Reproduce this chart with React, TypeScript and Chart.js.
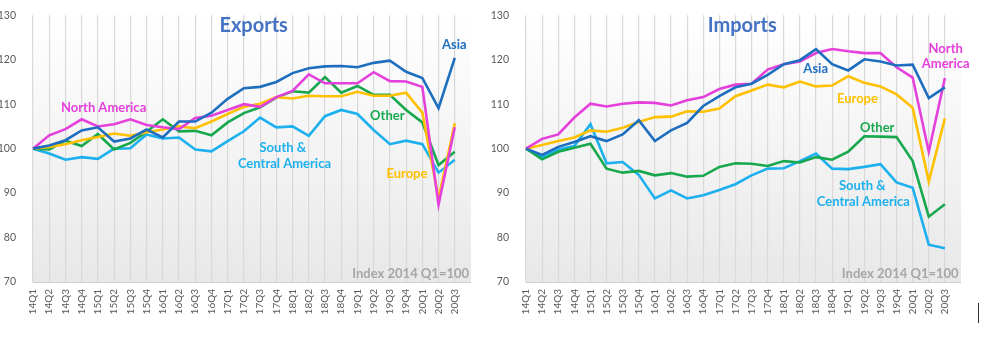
import React, { useEffect, useRef } from 'react';
import { Chart, registerables } from 'chart.js';

Chart.register(...registerables);

const quarters = [
  '14Q1', '14Q2', '14Q3', '14Q4', '15Q1', '15Q2', '15Q3', '15Q4',
  '16Q1', '16Q2', '16Q3', '16Q4', '17Q1', '17Q2', '17Q3', '17Q4',
  '18Q1', '18Q2', '18Q3', '18Q4', '19Q1', '19Q2', '19Q3', '19Q4',
  '20Q1', '20Q2', '20Q3',
];
const yTicks = [70, 80, 90, 100, 110, 120, 130];

const exportsAsia = [100, 100.7, 101.9, 104.1, 104.8, 101.6, 102.3, 104.3, 102.5, 106.1, 106.1, 108.1, 111.2, 113.6, 113.9, 115.0, 117.0, 118.1, 118.5, 118.6, 118.3, 119.3, 119.8, 117.3, 115.9, 109.1, 120.4];
const exportsNorthAmerica = [100, 103.0, 104.4, 106.6, 105.0, 105.5, 106.6, 105.3, 104.8, 104.4, 106.9, 107.4, 108.7, 110.0, 109.4, 111.6, 113.0, 116.7, 114.7, 114.7, 114.7, 117.2, 115.2, 115.1, 113.9, 87.4, 104.8];
const exportsEurope = [100, 100.4, 101.0, 101.9, 102.6, 103.4, 102.9, 103.7, 104.3, 105.0, 104.6, 106.1, 107.8, 109.4, 110.1, 111.6, 111.3, 111.9, 111.8, 111.8, 112.8, 111.9, 111.9, 112.6, 108.1, 88.8, 105.7];
const exportsOther = [100, 99.8, 101.8, 100.6, 103.3, 99.8, 101.3, 103.8, 106.6, 103.9, 104.0, 103.0, 105.9, 108.0, 109.3, 111.5, 112.9, 112.6, 116.1, 112.6, 114.1, 112.1, 112.1, 108.7, 105.9, 96.3, 99.3];
const exportsSouthCentral = [100, 98.9, 97.5, 98.1, 97.7, 100.0, 100.1, 103.2, 102.3, 102.5, 99.8, 99.4, 101.7, 103.9, 107.0, 104.8, 105.0, 102.9, 107.3, 108.7, 107.8, 104.2, 101.0, 101.8, 101.0, 94.6, 97.5];

const importsAsia = [100, 98.6, 100.4, 101.5, 102.8, 101.7, 103.2, 106.4, 101.7, 104.1, 105.8, 109.6, 111.8, 113.8, 114.6, 116.6, 119.0, 119.9, 122.4, 119.0, 117.6, 120.1, 119.6, 118.7, 118.9, 111.4, 113.8];
const importsNorthAmerica = [100, 102.2, 103.2, 107.0, 110.1, 109.5, 110.1, 110.4, 110.3, 109.7, 110.9, 111.6, 113.4, 114.4, 114.6, 117.8, 119.0, 119.6, 121.5, 122.4, 121.9, 121.5, 121.5, 118.3, 116.0, 99.3, 115.9];
const importsEurope = [100, 100.8, 101.7, 102.5, 104.1, 103.8, 104.7, 106.0, 107.1, 107.2, 108.4, 108.3, 109.0, 111.8, 113.1, 114.4, 113.8, 115.1, 114.0, 114.2, 116.3, 114.8, 114.0, 112.2, 109.2, 92.6, 106.8];
const importsOther = [100, 97.6, 99.3, 100.2, 101.1, 95.5, 94.6, 95.0, 94.0, 94.5, 93.7, 93.9, 95.9, 96.7, 96.6, 96.1, 97.2, 96.9, 98.1, 97.5, 99.3, 102.8, 102.7, 102.6, 97.2, 84.7, 87.5];
const importsSouthCentral = [100, 98.1, 99.8, 100.6, 105.5, 96.7, 97.0, 94.1, 88.8, 90.6, 88.8, 89.5, 90.7, 92.0, 94.0, 95.5, 95.6, 97.2, 98.9, 95.5, 95.4, 95.9, 96.5, 92.4, 91.2, 78.4, 77.6];

const C_ASIA = '#1E6EBF';
const C_NA = '#E640DC';
const C_EU = '#FFC000';
const C_OTHER = '#17A84E';
const C_SCA = '#1CB0EE';
const C_TITLE = '#4472C4';
const C_NOTE = '#A6A6A6';

type Note = { text: string; x: number; y: number; color: string; size: number; align?: CanvasTextAlign };

const exportsNotes: Note[] = [
  { text: 'Exports', x: 13.6, y: 127.6, color: C_TITLE, size: 20 },
  { text: 'North America', x: 4.35, y: 109.1, color: C_NA, size: 13 },
  { text: 'Asia', x: 25.97, y: 123.3, color: C_ASIA, size: 13 },
  { text: 'Other', x: 21.84, y: 107.3, color: C_OTHER, size: 13 },
  { text: 'South &', x: 15.4, y: 100.3, color: C_SCA, size: 13 },
  { text: 'Central America', x: 15.5, y: 96.7, color: C_SCA, size: 13 },
  { text: 'Europe', x: 23.05, y: 94.3, color: C_EU, size: 13 },
  { text: 'Index 2014 Q1=100', x: 26.88, y: 71.8, color: C_NOTE, size: 13, align: 'right' },
];

const importsNotes: Note[] = [
  { text: 'Imports', x: 13.42, y: 127.6, color: C_TITLE, size: 20 },
  { text: 'Asia', x: 17.98, y: 117.9, color: C_ASIA, size: 13 },
  { text: 'North', x: 26.05, y: 122.4, color: C_NA, size: 13 },
  { text: 'America', x: 26.05, y: 119.0, color: C_NA, size: 13 },
  { text: 'Europe', x: 20.57, y: 111.1, color: C_EU, size: 13 },
  { text: 'Other', x: 21.8, y: 104.6, color: C_OTHER, size: 13 },
  { text: 'South &', x: 20.87, y: 91.6, color: C_SCA, size: 13 },
  { text: 'Central America', x: 20.94, y: 88.0, color: C_SCA, size: 13 },
  { text: 'Index 2014 Q1=100', x: 26.85, y: 71.8, color: C_NOTE, size: 13, align: 'right' },
];

const FONT = "Lato, 'Open Sans', sans-serif";

type PanelProps = {
  left: number;
  width: number;
  yWidth: number;
  padRight: number;
  series: { label: string; data: number[]; color: string }[];
  notes: Note[];
};

function Panel({ left, width, yWidth, padRight, series, notes }: PanelProps) {
  const ref = useRef<HTMLCanvasElement | null>(null);
  useEffect(() => {
    if (!ref.current) return;
    const bgPlugin = {
      id: 'bgGradient',
      beforeDraw(chart: any) {
        const { ctx, chartArea: a } = chart;
        const g = ctx.createLinearGradient(0, a.top, 0, a.bottom);
        g.addColorStop(0, '#ffffff');
        g.addColorStop(1, '#e8e8e8');
        ctx.save();
        ctx.fillStyle = g;
        ctx.fillRect(a.left, a.top, a.right - a.left, a.bottom - a.top);
        ctx.restore();
      },
    };
    const notePlugin = {
      id: 'notes',
      afterDatasetsDraw(chart: any) {
        const { ctx } = chart;
        const xs = chart.scales.x;
        const ys = chart.scales.y;
        ctx.save();
        notes.forEach((n) => {
          ctx.font = `bold ${n.size}px ${FONT}`;
          ctx.fillStyle = n.color;
          ctx.textAlign = n.align || 'center';
          ctx.textBaseline = 'middle';
          ctx.fillText(n.text, xs.getPixelForValue(n.x), ys.getPixelForValue(n.y));
        });
        ctx.restore();
      },
    };
    const labels = [...quarters, ''];
    const chart = new Chart(ref.current, {
      type: 'line',
      data: {
        labels,
        datasets: series.map((s) => ({
          label: s.label,
          data: s.data,
          borderColor: s.color,
          backgroundColor: s.color,
          borderWidth: 2.6,
          pointRadius: 0,
          tension: 0,
          fill: false,
        })),
      },
      options: {
        responsive: false,
        animation: false,
        layout: { padding: { left: 0, right: padRight, top: 15, bottom: 0 } },
        plugins: { legend: { display: false }, title: { display: false }, tooltip: { enabled: false } },
        scales: {
          x: {
            type: 'category',
            offset: false,
            grid: {
              display: true,
              drawTicks: false,
              color: (ctx: any) => (ctx.index === quarters.length ? 'rgba(0,0,0,0)' : '#d9d9d9'),
              lineWidth: 1.2,
            },
            border: { display: true, color: '#d0d0d0', width: 1 },
            ticks: {
              autoSkip: false,
              minRotation: 90,
              maxRotation: 90,
              padding: 7,
              color: '#595959',
              font: { family: FONT, size: 10 },
            },
            afterFit: (scale: any) => { scale.height = 58; },
          },
          y: {
            min: 70,
            max: 130,
            afterBuildTicks: (scale: any) => { scale.ticks = yTicks.map((v) => ({ value: v })); },
            grid: { display: false },
            border: { display: false },
            ticks: {
              padding: 9,
              color: '#595959',
              font: { family: FONT, size: 10.5 },
            },
            afterFit: (scale: any) => { scale.width = yWidth; },
          },
        },
      },
      plugins: [bgPlugin, notePlugin],
    } as any);
    return () => chart.destroy();
  }, []);
  return (
    <canvas
      ref={ref}
      width={width}
      height={340}
      style={{ position: 'absolute', left, top: 0, width, height: 340, display: 'block' }}
    />
  );
}

export default function App() {
  return (
    <div style={{ position: 'absolute', left: 0, top: 0, width: 1000, height: 340, background: '#ffffff', overflow: 'hidden' }}>
      <Panel
        left={0}
        width={490}
        yWidth={33}
        padRight={12}
        notes={exportsNotes}
        series={[
          { label: 'Asia', data: exportsAsia, color: C_ASIA },
          { label: 'North America', data: exportsNorthAmerica, color: C_NA },
          { label: 'Europe', data: exportsEurope, color: C_EU },
          { label: 'Other', data: exportsOther, color: C_OTHER },
          { label: 'South & Central America', data: exportsSouthCentral, color: C_SCA },
        ]}
      />
      <Panel
        left={490}
        width={490}
        yWidth={36}
        padRight={16}
        notes={importsNotes}
        series={[
          { label: 'Asia', data: importsAsia, color: C_ASIA },
          { label: 'North America', data: importsNorthAmerica, color: C_NA },
          { label: 'Europe', data: importsEurope, color: C_EU },
          { label: 'Other', data: importsOther, color: C_OTHER },
          { label: 'South & Central America', data: importsSouthCentral, color: C_SCA },
        ]}
      />
      <div style={{ position: 'absolute', left: 978, top: 303, width: 1, height: 20, background: '#333333' }} />
    </div>
  );
}
